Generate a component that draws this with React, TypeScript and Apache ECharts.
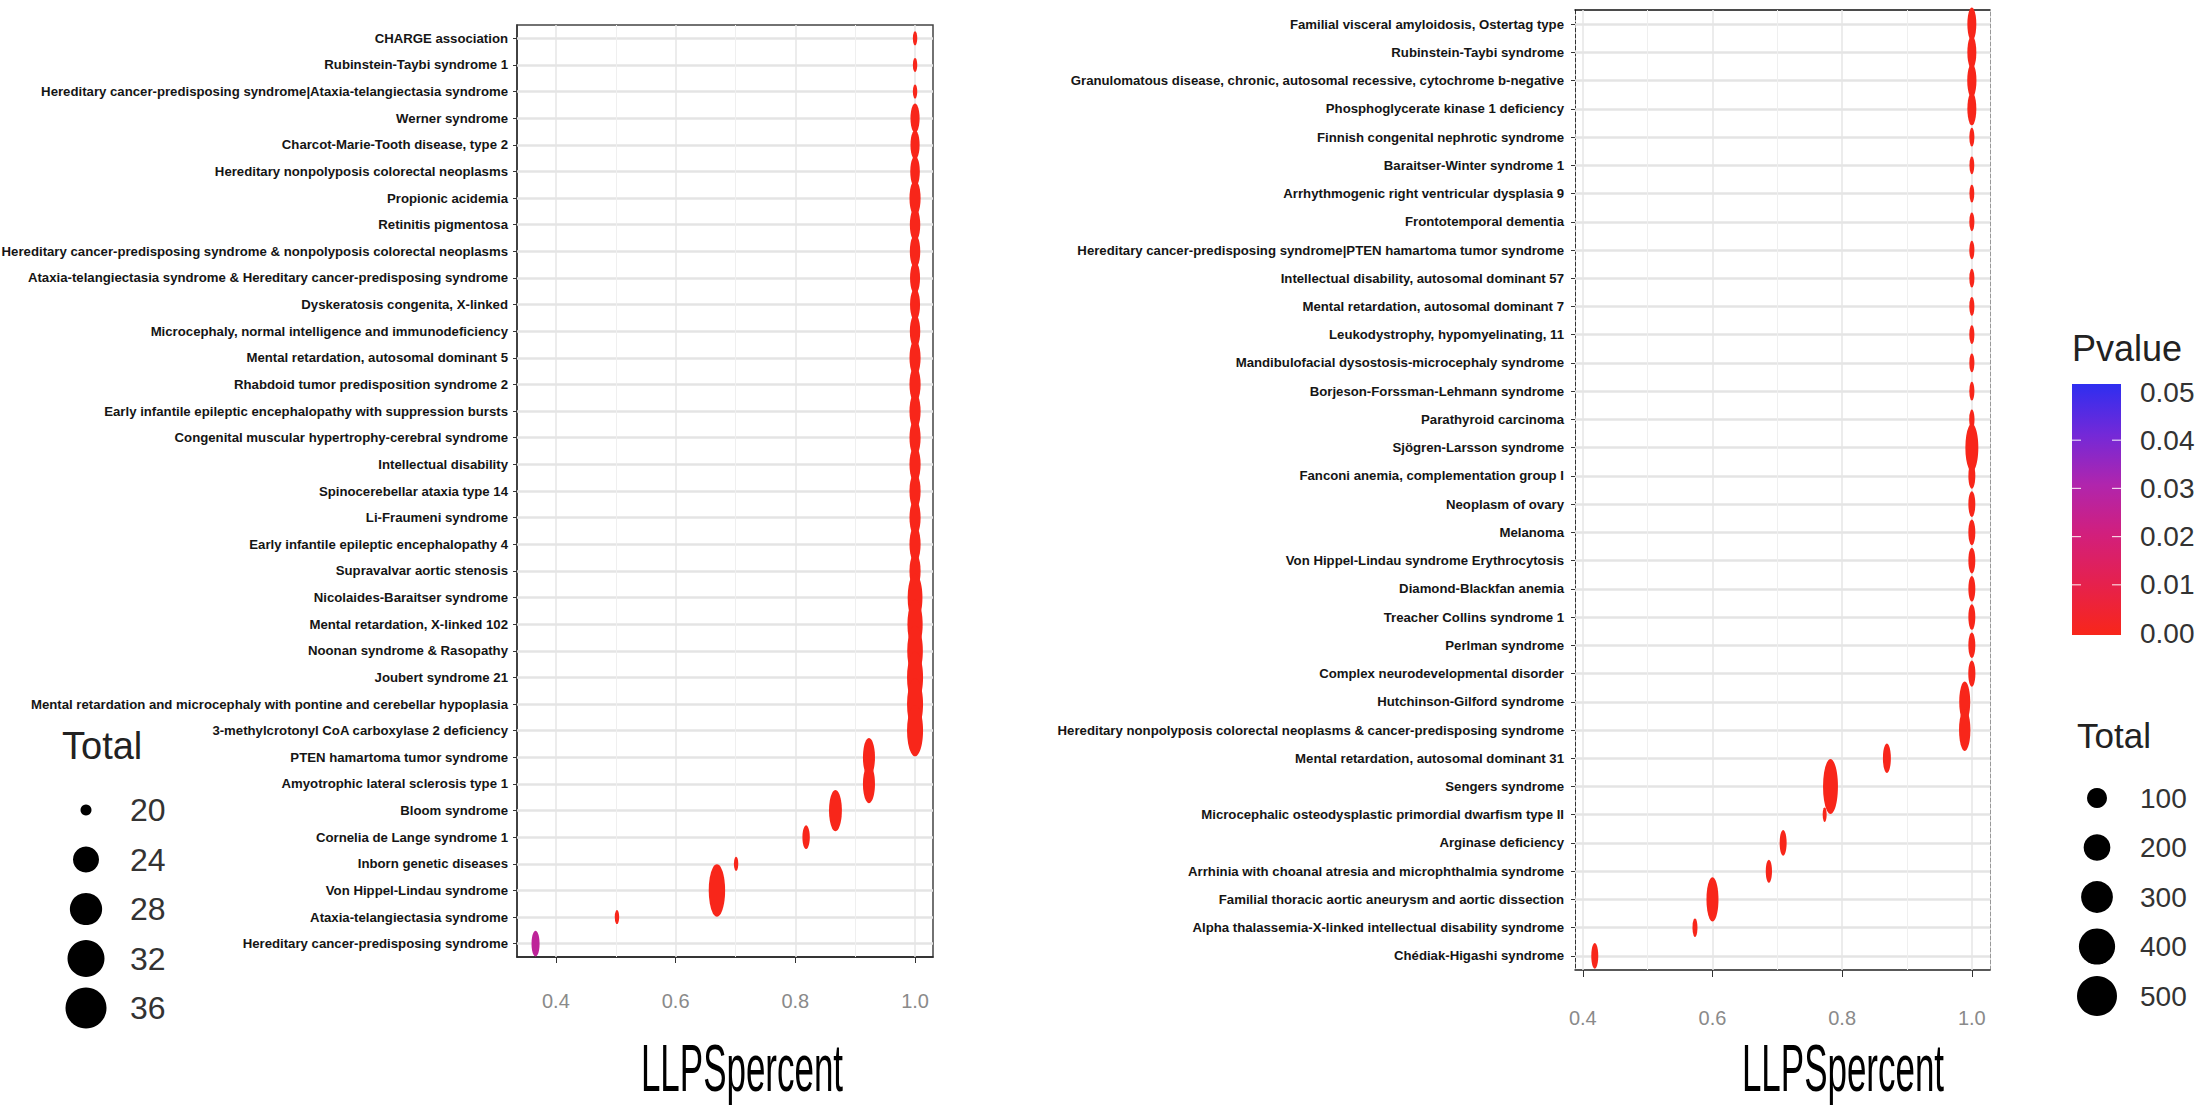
import React, { useEffect, useRef } from 'react';
import * as echarts from 'echarts';

// ---------------- DATA ----------------
const leftDiseases = [
  'CHARGE association',
  'Rubinstein-Taybi syndrome 1',
  'Hereditary cancer-predisposing syndrome|Ataxia-telangiectasia syndrome',
  'Werner syndrome',
  'Charcot-Marie-Tooth disease, type 2',
  'Hereditary nonpolyposis colorectal neoplasms',
  'Propionic acidemia',
  'Retinitis pigmentosa',
  'Hereditary cancer-predisposing syndrome & nonpolyposis colorectal neoplasms',
  'Ataxia-telangiectasia syndrome & Hereditary cancer-predisposing syndrome',
  'Dyskeratosis congenita, X-linked',
  'Microcephaly, normal intelligence and immunodeficiency',
  'Mental retardation, autosomal dominant 5',
  'Rhabdoid tumor predisposition syndrome 2',
  'Early infantile epileptic encephalopathy with suppression bursts',
  'Congenital muscular hypertrophy-cerebral syndrome',
  'Intellectual disability',
  'Spinocerebellar ataxia type 14',
  'Li-Fraumeni syndrome',
  'Early infantile epileptic encephalopathy 4',
  'Supravalvar aortic stenosis',
  'Nicolaides-Baraitser syndrome',
  'Mental retardation, X-linked 102',
  'Noonan syndrome & Rasopathy',
  'Joubert syndrome 21',
  'Mental retardation and microcephaly with pontine and cerebellar hypoplasia',
  '3-methylcrotonyl CoA carboxylase 2 deficiency',
  'PTEN hamartoma tumor syndrome',
  'Amyotrophic lateral sclerosis type 1',
  'Bloom syndrome',
  'Cornelia de Lange syndrome 1',
  'Inborn genetic diseases',
  'Von Hippel-Lindau syndrome',
  'Ataxia-telangiectasia syndrome',
  'Hereditary cancer-predisposing syndrome',
];
const leftLLPS = [
  1, 1, 1, 1, 1, 1, 1, 1, 1, 1, 1, 1, 1, 1, 1, 1, 1, 1, 1, 1, 1, 1, 1, 1, 1, 1, 1,
  0.923, 0.923, 0.867, 0.818, 0.701, 0.669, 0.502, 0.366,
];
const leftTotal = [
  20, 20, 20, 22.5, 22.5, 23, 25, 24, 24, 23.5, 23.5, 24, 25, 25, 25, 25, 25, 25, 25, 25, 25,
  32, 33, 34, 35, 35, 35, 26.5, 26.5, 28, 21, 20, 36, 20, 21.5,
];
const leftPvalue = [
  0, 0, 0, 0, 0, 0, 0, 0, 0, 0, 0, 0, 0, 0, 0, 0, 0, 0, 0, 0, 0, 0, 0, 0, 0, 0, 0,
  0, 0, 0, 0, 0, 0, 0, 0.026,
];

const rightDiseases = [
  'Familial visceral amyloidosis, Ostertag type',
  'Rubinstein-Taybi syndrome',
  'Granulomatous disease, chronic, autosomal recessive, cytochrome b-negative',
  'Phosphoglycerate kinase 1 deficiency',
  'Finnish congenital nephrotic syndrome',
  'Baraitser-Winter syndrome 1',
  'Arrhythmogenic right ventricular dysplasia 9',
  'Frontotemporal dementia',
  'Hereditary cancer-predisposing syndrome|PTEN hamartoma tumor syndrome',
  'Intellectual disability, autosomal dominant 57',
  'Mental retardation, autosomal dominant 7',
  'Leukodystrophy, hypomyelinating, 11',
  'Mandibulofacial dysostosis-microcephaly syndrome',
  'Borjeson-Forssman-Lehmann syndrome',
  'Parathyroid carcinoma',
  'Sjögren-Larsson syndrome',
  'Fanconi anemia, complementation group I',
  'Neoplasm of ovary',
  'Melanoma',
  'Von Hippel-Lindau syndrome Erythrocytosis',
  'Diamond-Blackfan anemia',
  'Treacher Collins syndrome 1',
  'Perlman syndrome',
  'Complex neurodevelopmental disorder',
  'Hutchinson-Gilford syndrome',
  'Hereditary nonpolyposis colorectal neoplasms & cancer-predisposing syndrome',
  'Mental retardation, autosomal dominant 31',
  'Sengers syndrome',
  'Microcephalic osteodysplastic primordial dwarfism type II',
  'Arginase deficiency',
  'Arrhinia with choanal atresia and microphthalmia syndrome',
  'Familial thoracic aortic aneurysm and aortic dissection',
  'Alpha thalassemia-X-linked intellectual disability syndrome',
  'Chédiak-Higashi syndrome',
];
const rightLLPS = [
  1, 1, 1, 1, 1, 1, 1, 1, 1, 1, 1, 1, 1, 1, 1, 1, 1, 1, 1, 1, 1, 1, 1, 1,
  0.989, 0.989, 0.869, 0.782, 0.773, 0.709, 0.687, 0.6, 0.573, 0.4185,
];
const rightTotal = [
  150, 150, 160, 150, 35, 30, 30, 35, 35, 35, 35, 35, 35, 35, 40, 350, 80, 80, 80, 80, 80, 80, 80, 85,
  240, 260, 113, 480, 17, 81, 61, 295, 34, 81,
];
const rightPvalue = [
  0, 0, 0, 0, 0, 0, 0, 0, 0, 0, 0, 0, 0, 0, 0, 0, 0, 0, 0, 0, 0, 0, 0, 0,
  0, 0, 0, 0, 0, 0, 0, 0, 0, 0,
];

const xTickValues = [0.4, 0.6, 0.8, 1.0];
const xMinorValues = [0.5, 0.7, 0.9];
const leftSizeTicks = [20, 24, 28, 32, 36];
const rightSizeTicks = [100, 200, 300, 400, 500];
const pvalueTicks = [0.05, 0.04, 0.03, 0.02, 0.01, 0.0];

// ---------------- STYLE ----------------
const SANS = '"Liberation Sans", Arial, Helvetica, sans-serif';
const PCOLORS = ['#f8261a', '#e6214c', '#d21f7c', '#b025ad', '#7329d8', '#2e2ef0'];

const leftD = (t: number) => 11 + 30 * Math.sqrt(Math.max(0, (t - 20) / 16));
const rightD = (t: number) => 3.8 + 1.618 * Math.sqrt(t);

function gridLines(cats: string[]) {
  const data: any[] = [];
  cats.forEach((c) => data.push({ yAxis: c, lineStyle: { color: '#e4e4e4', width: 2.5, type: 'solid' } }));
  xTickValues.forEach((v) => data.push({ xAxis: v, lineStyle: { color: '#e6e6e6', width: 1.5, type: 'solid' } }));
  xMinorValues.forEach((v) => data.push({ xAxis: v, lineStyle: { color: '#efefef', width: 1, type: 'solid' } }));
  return {
    z: 1,
    silent: true,
    symbol: ['none', 'none'],
    label: { show: false },
    emphasis: { disabled: true },
    animation: false,
    data,
  };
}

export default function App() {
  const ref = useRef<HTMLDivElement>(null);
  useEffect(() => {
    if (!ref.current) return;
    const chart = echarts.init(ref.current, undefined, { renderer: 'svg' });

    const leftData = leftDiseases.map((d, i) => [leftLLPS[i], d, leftTotal[i], leftPvalue[i]]);
    const rightData = rightDiseases.map((d, i) => [rightLLPS[i], d, rightTotal[i], rightPvalue[i]]);

    const yLabel = {
      interval: 0,
      fontFamily: SANS,
      fontWeight: 'bold' as const,
      fontSize: 13.2,
      color: '#151515',
    };

    const graphic: any[] = [];
    // axis titles
    [742, 1843].forEach((cx) => {
      graphic.push({
        type: 'text',
        x: cx,
        y: 1101,
        scaleX: 0.53,
        style: { text: 'LLPSpercent', fontFamily: SANS, fontSize: 66, fill: '#000', align: 'center', verticalAlign: 'bottom' },
      });
    });
    // left Total legend
    graphic.push({ type: 'text', x: 62, y: 746, style: { text: 'Total', fontFamily: SANS, fontSize: 38, fill: '#222', verticalAlign: 'middle' } });
    leftSizeTicks.forEach((t, i) => {
      const y = 810 + 49.5 * i;
      graphic.push({ type: 'circle', shape: { cx: 86, cy: y, r: leftD(t) / 2 }, style: { fill: '#000' } });
      graphic.push({ type: 'text', x: 130, y, style: { text: String(t), fontFamily: SANS, fontSize: 32, fill: '#333', verticalAlign: 'middle' } });
    });
    // right Pvalue legend
    graphic.push({ type: 'text', x: 2072, y: 348, style: { text: 'Pvalue', fontFamily: SANS, fontSize: 36, fill: '#222', verticalAlign: 'middle' } });
    graphic.push({
      type: 'rect',
      shape: { x: 2072, y: 384, width: 49, height: 251 },
      style: {
        fill: {
          type: 'linear', x: 0, y: 0, x2: 0, y2: 1,
          colorStops: PCOLORS.slice().reverse().map((c, i) => ({ offset: i / (PCOLORS.length - 1), color: c })),
        },
      },
    });
    pvalueTicks.forEach((p, i) => {
      const y = 392 + 48.2 * i;
      graphic.push({ type: 'text', x: 2140, y, style: { text: p.toFixed(2), fontFamily: SANS, fontSize: 28, fill: '#333', verticalAlign: 'middle' } });
      if (i > 0 && i < pvalueTicks.length - 1) {
        graphic.push({ type: 'line', shape: { x1: 2072, y1: y, x2: 2081, y2: y }, style: { stroke: '#fff', lineWidth: 1.2, opacity: 0.8 } });
        graphic.push({ type: 'line', shape: { x1: 2112, y1: y, x2: 2121, y2: y }, style: { stroke: '#fff', lineWidth: 1.2, opacity: 0.8 } });
      }
    });
    // right Total legend
    graphic.push({ type: 'text', x: 2077, y: 735, style: { text: 'Total', fontFamily: SANS, fontSize: 35, fill: '#222', verticalAlign: 'middle' } });
    rightSizeTicks.forEach((t, i) => {
      const y = 798 + 49.5 * i;
      graphic.push({ type: 'circle', shape: { cx: 2097, cy: y, r: rightD(t) / 2 }, style: { fill: '#000' } });
      graphic.push({ type: 'text', x: 2140, y, style: { text: String(t), fontFamily: SANS, fontSize: 28, fill: '#333', verticalAlign: 'middle' } });
    });

    const xLabel = (margin: number) => ({
      customValues: xTickValues,
      formatter: (v: number) => v.toFixed(1),
      color: '#8a8a8a',
      fontFamily: SANS,
      fontSize: 20,
      margin,
    });

    const option: any = {
      animation: false,
      backgroundColor: '#fff',
      grid: [
        { left: 517, top: 25, width: 416, height: 932, show: true, borderColor: '#444', borderWidth: 1.5, backgroundColor: 'transparent', containLabel: false, outerBoundsMode: 'none' },
        { left: 1575, top: 10, width: 415, height: 960, show: false, containLabel: false, outerBoundsMode: 'none' },
      ],
      xAxis: [
        {
          type: 'value', gridIndex: 0, min: 0.335, max: 1.03,
          axisLine: { show: true, onZero: false, lineStyle: { color: '#222', width: 1.5 } },
          axisTick: { show: true, customValues: xTickValues, length: 6, lineStyle: { color: '#333' } },
          axisLabel: xLabel(34),
          splitLine: { show: false },
        },
        {
          type: 'value', gridIndex: 1, min: 0.388, max: 1.028,
          axisLine: { show: true, onZero: false, lineStyle: { color: '#222', width: 1.5 } },
          axisTick: { show: true, customValues: xTickValues, length: 7, lineStyle: { color: '#333' } },
          axisLabel: xLabel(38),
          splitLine: { show: false },
        },
        {
          type: 'value', gridIndex: 1, min: 0.388, max: 1.028, position: 'top',
          axisLine: { show: true, onZero: false, lineStyle: { color: '#111', width: 1.5 } },
          axisTick: { show: false }, axisLabel: { show: false }, splitLine: { show: false },
        },
      ],
      yAxis: [
        {
          type: 'category', gridIndex: 0, data: leftDiseases, inverse: true,
          axisLine: { show: true, onZero: false, lineStyle: { color: '#333', width: 1.5 } },
          axisTick: { show: true, alignWithLabel: true, length: 4, lineStyle: { color: '#333' } },
          axisLabel: { ...yLabel, margin: 9 },
          splitLine: { show: false },
        },
        {
          type: 'category', gridIndex: 1, data: rightDiseases, inverse: true,
          axisLine: { show: true, onZero: false, lineStyle: { color: '#333', width: 1, type: 'dashed' } },
          axisTick: { show: true, alignWithLabel: true, length: 4, lineStyle: { color: '#333' } },
          axisLabel: { ...yLabel, margin: 11 },
          splitLine: { show: false },
        },
        {
          type: 'value', gridIndex: 1, position: 'right',
          axisLine: { show: true, onZero: false, lineStyle: { color: '#999', width: 1, type: 'dashed' } },
          axisTick: { show: false }, axisLabel: { show: false }, splitLine: { show: false },
        },
      ],
      visualMap: {
        type: 'continuous', show: false, min: 0, max: 0.05, dimension: 3, seriesIndex: [0, 1],
        inRange: { color: PCOLORS },
      },
      series: [
        {
          type: 'scatter', xAxisIndex: 0, yAxisIndex: 0, z: 3,
          data: leftData,
          symbol: 'circle',
          symbolSize: (v: any) => { const d = leftD(v[2]); return [d * 0.4, d * 1.28]; },
          itemStyle: { opacity: 1 },
          markLine: gridLines(leftDiseases),
        },
        {
          type: 'scatter', xAxisIndex: 1, yAxisIndex: 1, z: 3,
          data: rightData,
          symbol: 'circle',
          symbolSize: (v: any) => { const d = rightD(v[2]); return [d * 0.38, d * 1.4]; },
          itemStyle: { opacity: 1 },
          markLine: gridLines(rightDiseases),
        },
      ],
      graphic,
    };
    chart.setOption(option);
    return () => chart.dispose();
  }, []);

  return (
    <div
      ref={ref}
      style={{ position: 'fixed', left: 0, top: 0, width: 2198, height: 1107, background: '#fff' }}
    />
  );
}
